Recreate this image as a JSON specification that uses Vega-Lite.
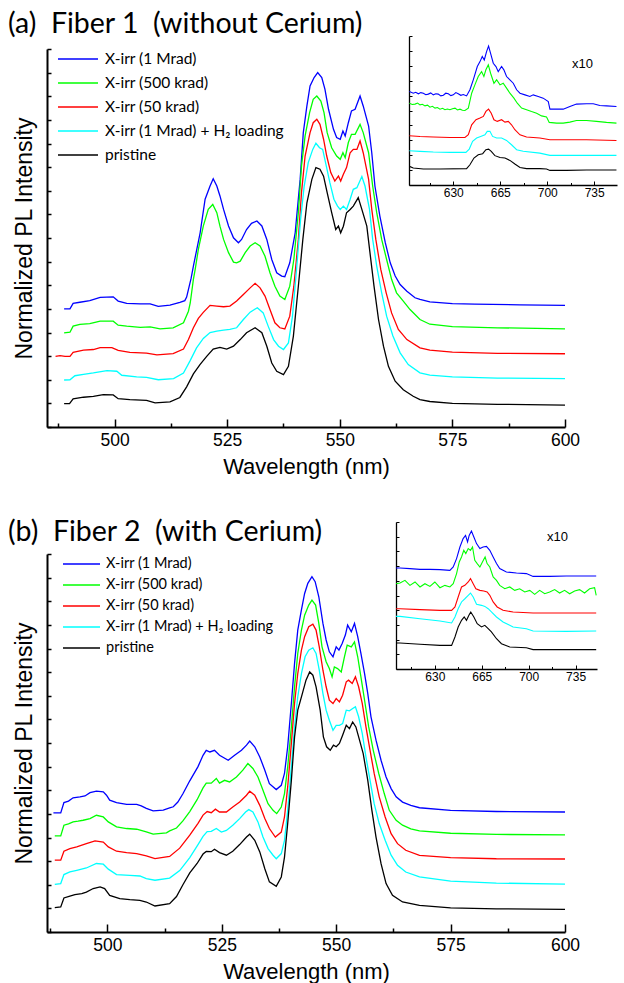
{
"$schema": "https://vega.github.io/schema/vega-lite/v6.json",
"background": "white",
"padding": {"left": 8, "top": 10, "right": 0, "bottom": 0},
"config": {
  "view": {"stroke": null},
  "font": "Liberation Sans",
  "axis": {"domainColor": "black", "tickColor": "black", "labelColor": "black", "titleColor": "black", "grid": false, "labelFont": "Liberation Sans", "titleFont": "Liberation Sans", "titleFontWeight": "normal", "labelFlush": false, "labelOverlap": false}
},
"datasets": {
"ma": [
{"s":1,"x":488.8,"y":5.0},{"s":1,"x":490.1,"y":5.0},{"s":1,"x":490.8,"y":5.23},{"s":1,"x":492.3,"y":5.28},{"s":1,"x":494.5,"y":5.35},{"s":1,"x":496.8,"y":5.49},{"s":1,"x":499.7,"y":5.51},{"s":1,"x":500.8,"y":5.33},{"s":1,"x":502.7,"y":5.23},{"s":1,"x":505.7,"y":5.21},{"s":1,"x":507.9,"y":5.21},{"s":1,"x":509.7,"y":5.11},{"s":1,"x":512.3,"y":5.16},{"s":1,"x":514.5,"y":5.28},{"s":1,"x":515.6,"y":5.35},{"s":1,"x":516.0,"y":5.5},{"s":1,"x":517.0,"y":6.3},{"s":1,"x":517.5,"y":6.81},{"s":1,"x":519.0,"y":8.22},{"s":1,"x":520.1,"y":9.64},{"s":1,"x":521.2,"y":10.2},{"s":1,"x":521.9,"y":10.51},{"s":1,"x":522.7,"y":10.2},{"s":1,"x":523.4,"y":9.78},{"s":1,"x":524.2,"y":9.21},{"s":1,"x":525.3,"y":8.51},{"s":1,"x":526.4,"y":8.01},{"s":1,"x":527.5,"y":7.8},{"s":1,"x":528.2,"y":7.94},{"s":1,"x":529.3,"y":8.36},{"s":1,"x":530.4,"y":8.62},{"s":1,"x":531.6,"y":8.72},{"s":1,"x":532.7,"y":8.51},{"s":1,"x":533.8,"y":7.94},{"s":1,"x":534.9,"y":7.09},{"s":1,"x":536.0,"y":6.53},{"s":1,"x":537.1,"y":6.39},{"s":1,"x":537.8,"y":6.36},{"s":1,"x":538.9,"y":6.95},{"s":1,"x":540.1,"y":8.22},{"s":1,"x":541.2,"y":10.48},{"s":1,"x":541.9,"y":12.46},{"s":1,"x":542.7,"y":13.59},{"s":1,"x":543.4,"y":14.44},{"s":1,"x":544.3,"y":14.79},{"s":1,"x":545.1,"y":15.0},{"s":1,"x":546.0,"y":14.79},{"s":1,"x":546.7,"y":14.3},{"s":1,"x":547.5,"y":13.45},{"s":1,"x":548.6,"y":12.6},{"s":1,"x":549.3,"y":12.25},{"s":1,"x":550.1,"y":12.18},{"s":1,"x":550.7,"y":12.53},{"s":1,"x":551.2,"y":12.32},{"s":1,"x":551.9,"y":12.88},{"s":1,"x":552.6,"y":13.38},{"s":1,"x":553.4,"y":13.45},{"s":1,"x":554.5,"y":14.01},{"s":1,"x":555.2,"y":13.59},{"s":1,"x":556.4,"y":12.74},{"s":1,"x":557.1,"y":11.61},{"s":1,"x":557.8,"y":10.2},{"s":1,"x":558.9,"y":8.93},{"s":1,"x":560.1,"y":7.8},{"s":1,"x":561.2,"y":6.95},{"s":1,"x":562.3,"y":6.39},{"s":1,"x":563.4,"y":6.03},{"s":1,"x":564.9,"y":5.75},{"s":1,"x":566.7,"y":5.47},{"s":1,"x":567.8,"y":5.4},{"s":1,"x":570,"y":5.3},{"s":1,"x":575,"y":5.22},{"s":1,"x":580,"y":5.2},{"s":1,"x":590,"y":5.17},{"s":1,"x":600,"y":5.15},
{"s":2,"x":488.8,"y":3.98},{"s":2,"x":490.1,"y":4.01},{"s":2,"x":490.8,"y":4.27},{"s":2,"x":492.3,"y":4.34},{"s":2,"x":494.5,"y":4.38},{"s":2,"x":496.8,"y":4.48},{"s":2,"x":499.7,"y":4.48},{"s":2,"x":500.8,"y":4.31},{"s":2,"x":502.7,"y":4.27},{"s":2,"x":505.7,"y":4.22},{"s":2,"x":507.9,"y":4.24},{"s":2,"x":510.1,"y":4.15},{"s":2,"x":513.0,"y":4.2},{"s":2,"x":515.3,"y":4.41},{"s":2,"x":516.4,"y":4.9},{"s":2,"x":516.8,"y":5.25},{"s":2,"x":517.5,"y":6.25},{"s":2,"x":517.9,"y":6.67},{"s":2,"x":518.6,"y":7.52},{"s":2,"x":519.7,"y":8.5},{"s":2,"x":520.8,"y":9.21},{"s":2,"x":521.8,"y":9.42},{"s":2,"x":522.7,"y":9.07},{"s":2,"x":523.4,"y":8.5},{"s":2,"x":524.2,"y":7.94},{"s":2,"x":525.3,"y":7.38},{"s":2,"x":526.4,"y":6.98},{"s":2,"x":527.1,"y":6.95},{"s":2,"x":527.9,"y":7.02},{"s":2,"x":529.0,"y":7.38},{"s":2,"x":530.1,"y":7.66},{"s":2,"x":531.2,"y":7.8},{"s":2,"x":532.3,"y":7.66},{"s":2,"x":533.4,"y":7.23},{"s":2,"x":534.5,"y":6.53},{"s":2,"x":535.6,"y":5.96},{"s":2,"x":536.7,"y":5.54},{"s":2,"x":537.8,"y":5.4},{"s":2,"x":538.9,"y":5.96},{"s":2,"x":539.8,"y":7.09},{"s":2,"x":540.8,"y":9.07},{"s":2,"x":541.5,"y":11.05},{"s":2,"x":542.3,"y":12.32},{"s":2,"x":543.3,"y":13.31},{"s":2,"x":544.1,"y":13.87},{"s":2,"x":544.9,"y":14.01},{"s":2,"x":545.8,"y":13.8},{"s":2,"x":546.5,"y":13.31},{"s":2,"x":547.2,"y":12.46},{"s":2,"x":548.2,"y":11.82},{"s":2,"x":549.3,"y":11.47},{"s":2,"x":550.1,"y":11.33},{"s":2,"x":550.7,"y":11.61},{"s":2,"x":551.2,"y":11.4},{"s":2,"x":551.9,"y":12.04},{"s":2,"x":552.6,"y":12.39},{"s":2,"x":553.4,"y":12.39},{"s":2,"x":554.5,"y":12.81},{"s":2,"x":555.2,"y":12.46},{"s":2,"x":556.4,"y":11.61},{"s":2,"x":557.3,"y":10.2},{"s":2,"x":558.2,"y":9.07},{"s":2,"x":559.3,"y":7.94},{"s":2,"x":560.4,"y":7.09},{"s":2,"x":561.5,"y":6.25},{"s":2,"x":562.6,"y":5.68},{"s":2,"x":564.1,"y":5.33},{"s":2,"x":565.6,"y":4.97},{"s":2,"x":567.8,"y":4.55},{"s":2,"x":570,"y":4.35},{"s":2,"x":575,"y":4.25},{"s":2,"x":585,"y":4.2},{"s":2,"x":600,"y":4.15},
{"s":3,"x":486.9,"y":2.99},{"s":3,"x":487.9,"y":3.02},{"s":3,"x":489.0,"y":2.99},{"s":3,"x":490.1,"y":2.99},{"s":3,"x":490.8,"y":3.16},{"s":3,"x":493.1,"y":3.25},{"s":3,"x":495.3,"y":3.28},{"s":3,"x":496.8,"y":3.36},{"s":3,"x":499.4,"y":3.36},{"s":3,"x":500.8,"y":3.24},{"s":3,"x":503.4,"y":3.16},{"s":3,"x":507.1,"y":3.13},{"s":3,"x":509.4,"y":3.05},{"s":3,"x":513.0,"y":3.11},{"s":3,"x":515.3,"y":3.3},{"s":3,"x":516.4,"y":3.7},{"s":3,"x":517.5,"y":4.2},{"s":3,"x":518.6,"y":4.6},{"s":3,"x":519.7,"y":4.85},{"s":3,"x":521.2,"y":5.15},{"s":3,"x":522.7,"y":5.12},{"s":3,"x":524.2,"y":5.09},{"s":3,"x":525.6,"y":5.12},{"s":3,"x":527.1,"y":5.33},{"s":3,"x":528.6,"y":5.61},{"s":3,"x":530.1,"y":5.89},{"s":3,"x":531.2,"y":6.08},{"s":3,"x":532.3,"y":5.89},{"s":3,"x":533.4,"y":5.54},{"s":3,"x":534.5,"y":4.97},{"s":3,"x":535.6,"y":4.41},{"s":3,"x":536.7,"y":4.2},{"s":3,"x":537.8,"y":4.15},{"s":3,"x":538.9,"y":4.69},{"s":3,"x":539.8,"y":5.96},{"s":3,"x":540.8,"y":7.94},{"s":3,"x":541.5,"y":9.92},{"s":3,"x":542.3,"y":11.47},{"s":3,"x":543.4,"y":12.46},{"s":3,"x":544.1,"y":12.88},{"s":3,"x":544.9,"y":13.03},{"s":3,"x":545.6,"y":12.81},{"s":3,"x":546.4,"y":12.18},{"s":3,"x":547.1,"y":11.47},{"s":3,"x":548.0,"y":10.77},{"s":3,"x":548.9,"y":10.41},{"s":3,"x":549.7,"y":10.62},{"s":3,"x":550.2,"y":10.41},{"s":3,"x":550.8,"y":10.7},{"s":3,"x":551.5,"y":10.98},{"s":3,"x":552.3,"y":11.61},{"s":3,"x":553.0,"y":11.75},{"s":3,"x":553.8,"y":11.75},{"s":3,"x":554.5,"y":12.11},{"s":3,"x":555.2,"y":11.61},{"s":3,"x":556.4,"y":10.48},{"s":3,"x":557.1,"y":9.21},{"s":3,"x":558.0,"y":7.94},{"s":3,"x":559.1,"y":6.67},{"s":3,"x":560.3,"y":5.68},{"s":3,"x":561.5,"y":4.83},{"s":3,"x":563.0,"y":4.13},{"s":3,"x":564.9,"y":3.7},{"s":3,"x":567.8,"y":3.35},{"s":3,"x":570,"y":3.25},{"s":3,"x":575,"y":3.17},{"s":3,"x":585,"y":3.12},{"s":3,"x":600,"y":3.1},
{"s":4,"x":488.8,"y":1.99},{"s":4,"x":490.1,"y":2.0},{"s":4,"x":491.2,"y":2.17},{"s":4,"x":493.1,"y":2.23},{"s":4,"x":495.3,"y":2.29},{"s":4,"x":498.3,"y":2.39},{"s":4,"x":500.5,"y":2.36},{"s":4,"x":501.6,"y":2.19},{"s":4,"x":504.9,"y":2.12},{"s":4,"x":507.1,"y":2.1},{"s":4,"x":509.7,"y":2.0},{"s":4,"x":513.1,"y":2.05},{"s":4,"x":515.3,"y":2.28},{"s":4,"x":516.75,"y":2.8},{"s":4,"x":518.2,"y":3.35},{"s":4,"x":519.7,"y":3.75},{"s":4,"x":521.2,"y":4.0},{"s":4,"x":522.7,"y":4.06},{"s":4,"x":524.2,"y":4.1},{"s":4,"x":525.6,"y":4.13},{"s":4,"x":527.1,"y":4.2},{"s":4,"x":528.6,"y":4.55},{"s":4,"x":530.1,"y":4.86},{"s":4,"x":531.7,"y":5.05},{"s":4,"x":533.0,"y":4.83},{"s":4,"x":534.1,"y":4.27},{"s":4,"x":535.3,"y":3.7},{"s":4,"x":536.4,"y":3.42},{"s":4,"x":537.5,"y":3.28},{"s":4,"x":538.6,"y":3.56},{"s":4,"x":539.5,"y":4.69},{"s":4,"x":540.4,"y":6.67},{"s":4,"x":541.3,"y":8.79},{"s":4,"x":542.1,"y":10.2},{"s":4,"x":543.0,"y":11.19},{"s":4,"x":544.0,"y":11.75},{"s":4,"x":544.7,"y":12.01},{"s":4,"x":545.5,"y":11.82},{"s":4,"x":546.2,"y":11.75},{"s":4,"x":547.0,"y":11.05},{"s":4,"x":547.8,"y":10.34},{"s":4,"x":548.7,"y":9.64},{"s":4,"x":549.5,"y":9.35},{"s":4,"x":550.1,"y":9.21},{"s":4,"x":550.8,"y":9.35},{"s":4,"x":551.5,"y":9.21},{"s":4,"x":552.3,"y":9.64},{"s":4,"x":553.0,"y":10.06},{"s":4,"x":553.8,"y":10.13},{"s":4,"x":554.9,"y":10.6},{"s":4,"x":555.6,"y":10.2},{"s":4,"x":556.6,"y":9.21},{"s":4,"x":557.3,"y":7.94},{"s":4,"x":558.2,"y":6.81},{"s":4,"x":559.3,"y":5.68},{"s":4,"x":560.4,"y":4.69},{"s":4,"x":561.8,"y":3.85},{"s":4,"x":563.4,"y":3.14},{"s":4,"x":565.2,"y":2.64},{"s":4,"x":567.8,"y":2.29},{"s":4,"x":570,"y":2.2},{"s":4,"x":575,"y":2.12},{"s":4,"x":585,"y":2.07},{"s":4,"x":600,"y":2.05},
{"s":5,"x":488.8,"y":0.99},{"s":5,"x":490.0,"y":0.99},{"s":5,"x":490.8,"y":1.19},{"s":5,"x":493.1,"y":1.26},{"s":5,"x":495.3,"y":1.3},{"s":5,"x":497.5,"y":1.37},{"s":5,"x":499.7,"y":1.36},{"s":5,"x":500.8,"y":1.2},{"s":5,"x":503.4,"y":1.16},{"s":5,"x":507.1,"y":1.13},{"s":5,"x":509.0,"y":1.02},{"s":5,"x":512.3,"y":1.06},{"s":5,"x":514.5,"y":1.25},{"s":5,"x":516.0,"y":1.7},{"s":5,"x":517.5,"y":2.25},{"s":5,"x":519.0,"y":2.65},{"s":5,"x":520.5,"y":3.0},{"s":5,"x":521.9,"y":3.3},{"s":5,"x":523.4,"y":3.37},{"s":5,"x":524.9,"y":3.3},{"s":5,"x":526.4,"y":3.42},{"s":5,"x":527.9,"y":3.7},{"s":5,"x":529.3,"y":3.99},{"s":5,"x":531.2,"y":4.2},{"s":5,"x":532.7,"y":3.99},{"s":5,"x":533.8,"y":3.42},{"s":5,"x":534.9,"y":2.71},{"s":5,"x":536.0,"y":2.36},{"s":5,"x":537.5,"y":2.22},{"s":5,"x":538.6,"y":2.57},{"s":5,"x":539.7,"y":3.85},{"s":5,"x":540.8,"y":5.96},{"s":5,"x":541.8,"y":7.94},{"s":5,"x":542.7,"y":9.49},{"s":5,"x":543.8,"y":10.48},{"s":5,"x":544.7,"y":10.98},{"s":5,"x":545.6,"y":10.91},{"s":5,"x":546.4,"y":10.62},{"s":5,"x":547.2,"y":9.92},{"s":5,"x":548.2,"y":9.07},{"s":5,"x":549.1,"y":8.36},{"s":5,"x":549.7,"y":8.5},{"s":5,"x":550.2,"y":8.22},{"s":5,"x":550.8,"y":8.5},{"s":5,"x":551.5,"y":9.07},{"s":5,"x":552.3,"y":9.21},{"s":5,"x":553.0,"y":9.35},{"s":5,"x":554.1,"y":9.71},{"s":5,"x":554.9,"y":9.21},{"s":5,"x":556.0,"y":8.5},{"s":5,"x":556.7,"y":7.38},{"s":5,"x":557.6,"y":5.96},{"s":5,"x":558.6,"y":4.55},{"s":5,"x":559.7,"y":3.42},{"s":5,"x":560.8,"y":2.57},{"s":5,"x":562.3,"y":1.94},{"s":5,"x":564.1,"y":1.58},{"s":5,"x":566.3,"y":1.3},{"s":5,"x":567.8,"y":1.16},{"s":5,"x":570,"y":1.08},{"s":5,"x":575,"y":1.0},{"s":5,"x":585,"y":0.96},{"s":5,"x":600,"y":0.93}
],
"mb": [
{"s":1,"x":488.2,"y":5.04},{"s":1,"x":489.8,"y":5.04},{"s":1,"x":490.5,"y":5.48},{"s":1,"x":491.5,"y":5.54},{"s":1,"x":492.5,"y":5.68},{"s":1,"x":494.0,"y":5.72},{"s":1,"x":495.1,"y":5.76},{"s":1,"x":496.2,"y":5.9},{"s":1,"x":497.6,"y":5.96},{"s":1,"x":499.1,"y":5.93},{"s":1,"x":499.8,"y":5.79},{"s":1,"x":500.5,"y":5.58},{"s":1,"x":502.0,"y":5.48},{"s":1,"x":504.2,"y":5.4},{"s":1,"x":506.4,"y":5.4},{"s":1,"x":507.4,"y":5.34},{"s":1,"x":508.5,"y":5.23},{"s":1,"x":510.0,"y":5.13},{"s":1,"x":512.2,"y":5.16},{"s":1,"x":513.6,"y":5.25},{"s":1,"x":514.4,"y":5.3},{"s":1,"x":515.4,"y":5.5},{"s":1,"x":516.5,"y":5.85},{"s":1,"x":518.0,"y":6.4},{"s":1,"x":519.8,"y":7.0},{"s":1,"x":520.9,"y":7.48},{"s":1,"x":521.6,"y":7.69},{"s":1,"x":522.4,"y":7.62},{"s":1,"x":523.4,"y":7.69},{"s":1,"x":524.5,"y":7.48},{"s":1,"x":526.4,"y":7.27},{"s":1,"x":527.8,"y":7.48},{"s":1,"x":529.3,"y":7.69},{"s":1,"x":530.4,"y":7.91},{"s":1,"x":531.1,"y":8.08},{"s":1,"x":532.2,"y":7.84},{"s":1,"x":533.3,"y":7.41},{"s":1,"x":534.4,"y":6.85},{"s":1,"x":535.4,"y":6.28},{"s":1,"x":536.9,"y":6.03},{"s":1,"x":538.0,"y":6.21},{"s":1,"x":538.7,"y":6.71},{"s":1,"x":539.4,"y":7.84},{"s":1,"x":540.2,"y":9.67},{"s":1,"x":540.9,"y":11.37},{"s":1,"x":541.6,"y":12.78},{"s":1,"x":542.4,"y":13.63},{"s":1,"x":543.1,"y":14.33},{"s":1,"x":543.8,"y":14.76},{"s":1,"x":544.7,"y":15.04},{"s":1,"x":545.4,"y":14.83},{"s":1,"x":546.2,"y":14.19},{"s":1,"x":547.1,"y":13.06},{"s":1,"x":547.8,"y":12.36},{"s":1,"x":548.5,"y":11.86},{"s":1,"x":549.3,"y":11.65},{"s":1,"x":550.0,"y":12.07},{"s":1,"x":550.6,"y":11.93},{"s":1,"x":551.3,"y":12.21},{"s":1,"x":552.0,"y":12.57},{"s":1,"x":552.5,"y":12.99},{"s":1,"x":553.3,"y":12.71},{"s":1,"x":554.0,"y":13.06},{"s":1,"x":554.7,"y":12.5},{"s":1,"x":555.4,"y":11.79},{"s":1,"x":556.2,"y":10.94},{"s":1,"x":556.9,"y":10.09},{"s":1,"x":557.6,"y":9.11},{"s":1,"x":558.7,"y":8.12},{"s":1,"x":559.8,"y":7.27},{"s":1,"x":560.9,"y":6.56},{"s":1,"x":562.0,"y":6.07},{"s":1,"x":563.1,"y":5.72},{"s":1,"x":564.5,"y":5.5},{"s":1,"x":566.3,"y":5.36},{"s":1,"x":568.2,"y":5.26},{"s":1,"x":575,"y":5.15},{"s":1,"x":585,"y":5.1},{"s":1,"x":600,"y":5.08},
{"s":2,"x":488.5,"y":4.07},{"s":2,"x":489.8,"y":4.07},{"s":2,"x":490.5,"y":4.52},{"s":2,"x":491.5,"y":4.58},{"s":2,"x":492.5,"y":4.66},{"s":2,"x":493.6,"y":4.69},{"s":2,"x":494.7,"y":4.73},{"s":2,"x":496.2,"y":4.8},{"s":2,"x":497.6,"y":4.94},{"s":2,"x":499.1,"y":4.87},{"s":2,"x":500.2,"y":4.66},{"s":2,"x":502.0,"y":4.45},{"s":2,"x":504.2,"y":4.38},{"s":2,"x":506.4,"y":4.35},{"s":2,"x":508.5,"y":4.24},{"s":2,"x":510.0,"y":4.14},{"s":2,"x":512.9,"y":4.2},{"s":2,"x":513.6,"y":4.28},{"s":2,"x":515.1,"y":4.4},{"s":2,"x":516.5,"y":4.7},{"s":2,"x":518.0,"y":5.1},{"s":2,"x":519.6,"y":5.6},{"s":2,"x":520.9,"y":6.1},{"s":2,"x":521.6,"y":6.3},{"s":2,"x":522.7,"y":6.3},{"s":2,"x":523.8,"y":6.5},{"s":2,"x":524.5,"y":6.3},{"s":2,"x":525.6,"y":6.42},{"s":2,"x":526.7,"y":6.35},{"s":2,"x":528.2,"y":6.56},{"s":2,"x":529.6,"y":6.85},{"s":2,"x":530.7,"y":7.13},{"s":2,"x":531.8,"y":6.92},{"s":2,"x":532.9,"y":6.56},{"s":2,"x":534.0,"y":6.0},{"s":2,"x":535.1,"y":5.43},{"s":2,"x":536.2,"y":5.15},{"s":2,"x":537.0,"y":5.01},{"s":2,"x":538.0,"y":5.29},{"s":2,"x":538.7,"y":5.86},{"s":2,"x":539.4,"y":6.99},{"s":2,"x":540.2,"y":8.68},{"s":2,"x":540.9,"y":10.38},{"s":2,"x":541.6,"y":11.79},{"s":2,"x":542.4,"y":12.78},{"s":2,"x":543.1,"y":13.41},{"s":2,"x":544.0,"y":13.84},{"s":2,"x":544.7,"y":14.05},{"s":2,"x":545.5,"y":13.84},{"s":2,"x":546.2,"y":13.06},{"s":2,"x":546.9,"y":12.07},{"s":2,"x":547.8,"y":11.44},{"s":2,"x":548.5,"y":11.15},{"s":2,"x":549.1,"y":10.8},{"s":2,"x":549.6,"y":11.22},{"s":2,"x":550.3,"y":11.15},{"s":2,"x":551.1,"y":11.01},{"s":2,"x":551.8,"y":11.65},{"s":2,"x":552.4,"y":12.14},{"s":2,"x":553.3,"y":12.07},{"s":2,"x":554.0,"y":12.28},{"s":2,"x":554.7,"y":11.65},{"s":2,"x":555.4,"y":10.8},{"s":2,"x":556.2,"y":9.81},{"s":2,"x":557.1,"y":8.68},{"s":2,"x":558.1,"y":7.69},{"s":2,"x":559.3,"y":6.71},{"s":2,"x":560.5,"y":5.86},{"s":2,"x":561.6,"y":5.15},{"s":2,"x":563.1,"y":4.73},{"s":2,"x":564.5,"y":4.52},{"s":2,"x":566.3,"y":4.37},{"s":2,"x":568.2,"y":4.28},{"s":2,"x":575,"y":4.18},{"s":2,"x":585,"y":4.13},{"s":2,"x":600,"y":4.11},
{"s":3,"x":488.5,"y":3.04},{"s":3,"x":489.8,"y":3.04},{"s":3,"x":490.5,"y":3.42},{"s":3,"x":491.8,"y":3.53},{"s":3,"x":493.3,"y":3.6},{"s":3,"x":495.4,"y":3.74},{"s":3,"x":497.3,"y":3.86},{"s":3,"x":499.1,"y":3.81},{"s":3,"x":500.2,"y":3.6},{"s":3,"x":502.0,"y":3.42},{"s":3,"x":504.2,"y":3.36},{"s":3,"x":506.4,"y":3.32},{"s":3,"x":508.5,"y":3.22},{"s":3,"x":510.4,"y":3.11},{"s":3,"x":513.6,"y":3.2},{"s":3,"x":515.8,"y":3.55},{"s":3,"x":518.0,"y":4.1},{"s":3,"x":519.8,"y":4.6},{"s":3,"x":520.9,"y":4.95},{"s":3,"x":521.8,"y":5.1},{"s":3,"x":522.7,"y":5.05},{"s":3,"x":523.6,"y":5.2},{"s":3,"x":524.5,"y":5.08},{"s":3,"x":526.0,"y":5.08},{"s":3,"x":527.4,"y":5.29},{"s":3,"x":528.9,"y":5.5},{"s":3,"x":530.4,"y":5.79},{"s":3,"x":531.1,"y":5.96},{"s":3,"x":532.2,"y":5.79},{"s":3,"x":533.3,"y":5.36},{"s":3,"x":534.4,"y":4.8},{"s":3,"x":535.4,"y":4.38},{"s":3,"x":536.7,"y":4.02},{"s":3,"x":538.0,"y":4.23},{"s":3,"x":538.7,"y":4.87},{"s":3,"x":539.4,"y":6.14},{"s":3,"x":540.2,"y":7.98},{"s":3,"x":540.9,"y":9.67},{"s":3,"x":541.6,"y":10.94},{"s":3,"x":542.4,"y":11.93},{"s":3,"x":543.1,"y":12.5},{"s":3,"x":544.0,"y":12.92},{"s":3,"x":544.9,"y":13.03},{"s":3,"x":545.6,"y":12.78},{"s":3,"x":546.3,"y":12.07},{"s":3,"x":547.1,"y":11.08},{"s":3,"x":547.8,"y":10.38},{"s":3,"x":548.5,"y":9.81},{"s":3,"x":549.3,"y":9.67},{"s":3,"x":550.0,"y":9.88},{"s":3,"x":550.7,"y":9.74},{"s":3,"x":551.4,"y":10.02},{"s":3,"x":552.2,"y":10.59},{"s":3,"x":552.7,"y":10.66},{"s":3,"x":553.5,"y":10.52},{"s":3,"x":554.2,"y":10.8},{"s":3,"x":554.9,"y":10.38},{"s":3,"x":555.7,"y":9.67},{"s":3,"x":556.5,"y":8.68},{"s":3,"x":557.4,"y":7.69},{"s":3,"x":558.3,"y":6.71},{"s":3,"x":559.4,"y":5.72},{"s":3,"x":560.7,"y":4.87},{"s":3,"x":562.0,"y":4.16},{"s":3,"x":563.4,"y":3.74},{"s":3,"x":565.2,"y":3.46},{"s":3,"x":568.2,"y":3.24},{"s":3,"x":575,"y":3.15},{"s":3,"x":585,"y":3.1},{"s":3,"x":600,"y":3.09},
{"s":4,"x":488.5,"y":2.02},{"s":4,"x":489.8,"y":2.05},{"s":4,"x":490.5,"y":2.43},{"s":4,"x":491.8,"y":2.54},{"s":4,"x":493.3,"y":2.61},{"s":4,"x":495.4,"y":2.71},{"s":4,"x":497.6,"y":2.9},{"s":4,"x":499.1,"y":2.87},{"s":4,"x":500.2,"y":2.66},{"s":4,"x":502.0,"y":2.43},{"s":4,"x":504.9,"y":2.4},{"s":4,"x":507.1,"y":2.37},{"s":4,"x":508.5,"y":2.26},{"s":4,"x":510.4,"y":2.19},{"s":4,"x":513.6,"y":2.28},{"s":4,"x":515.8,"y":2.6},{"s":4,"x":518.0,"y":3.15},{"s":4,"x":519.8,"y":3.7},{"s":4,"x":520.9,"y":4.05},{"s":4,"x":521.8,"y":4.25},{"s":4,"x":522.7,"y":4.26},{"s":4,"x":523.8,"y":4.38},{"s":4,"x":524.9,"y":4.23},{"s":4,"x":526.0,"y":4.3},{"s":4,"x":527.4,"y":4.52},{"s":4,"x":528.9,"y":4.8},{"s":4,"x":530.2,"y":5.08},{"s":4,"x":530.9,"y":5.18},{"s":4,"x":531.8,"y":5.08},{"s":4,"x":532.9,"y":4.66},{"s":4,"x":534.0,"y":4.02},{"s":4,"x":535.1,"y":3.53},{"s":4,"x":536.2,"y":3.25},{"s":4,"x":536.9,"y":3.1},{"s":4,"x":538.0,"y":3.32},{"s":4,"x":538.7,"y":3.88},{"s":4,"x":539.4,"y":5.15},{"s":4,"x":540.2,"y":6.99},{"s":4,"x":540.9,"y":8.68},{"s":4,"x":541.6,"y":9.95},{"s":4,"x":542.4,"y":10.94},{"s":4,"x":543.2,"y":11.65},{"s":4,"x":544.0,"y":11.93},{"s":4,"x":544.9,"y":12.03},{"s":4,"x":545.6,"y":11.79},{"s":4,"x":546.3,"y":11.08},{"s":4,"x":547.1,"y":10.09},{"s":4,"x":547.8,"y":9.39},{"s":4,"x":548.5,"y":8.96},{"s":4,"x":549.3,"y":8.54},{"s":4,"x":550.0,"y":8.75},{"s":4,"x":550.7,"y":8.75},{"s":4,"x":551.4,"y":8.82},{"s":4,"x":552.2,"y":9.39},{"s":4,"x":552.9,"y":9.36},{"s":4,"x":553.6,"y":9.46},{"s":4,"x":554.2,"y":9.53},{"s":4,"x":554.9,"y":9.11},{"s":4,"x":555.7,"y":8.4},{"s":4,"x":556.5,"y":7.41},{"s":4,"x":557.4,"y":6.42},{"s":4,"x":558.3,"y":5.43},{"s":4,"x":559.4,"y":4.59},{"s":4,"x":560.7,"y":3.88},{"s":4,"x":562.0,"y":3.25},{"s":4,"x":563.4,"y":2.82},{"s":4,"x":565.2,"y":2.54},{"s":4,"x":568.2,"y":2.33},{"s":4,"x":575,"y":2.15},{"s":4,"x":585,"y":2.07},{"s":4,"x":600,"y":2.03},
{"s":5,"x":488.5,"y":1.03},{"s":5,"x":489.8,"y":1.06},{"s":5,"x":490.5,"y":1.44},{"s":5,"x":491.8,"y":1.52},{"s":5,"x":492.9,"y":1.58},{"s":5,"x":494.4,"y":1.62},{"s":5,"x":495.4,"y":1.69},{"s":5,"x":496.9,"y":1.84},{"s":5,"x":498.4,"y":1.91},{"s":5,"x":499.4,"y":1.84},{"s":5,"x":500.5,"y":1.55},{"s":5,"x":502.7,"y":1.41},{"s":5,"x":504.9,"y":1.37},{"s":5,"x":507.1,"y":1.34},{"s":5,"x":508.5,"y":1.27},{"s":5,"x":510.4,"y":1.1},{"s":5,"x":513.6,"y":1.2},{"s":5,"x":515.1,"y":1.5},{"s":5,"x":516.5,"y":2.0},{"s":5,"x":518.0,"y":2.5},{"s":5,"x":519.6,"y":2.9},{"s":5,"x":520.9,"y":3.3},{"s":5,"x":521.6,"y":3.41},{"s":5,"x":522.7,"y":3.4},{"s":5,"x":523.4,"y":3.5},{"s":5,"x":524.5,"y":3.36},{"s":5,"x":526.0,"y":3.25},{"s":5,"x":527.4,"y":3.42},{"s":5,"x":528.9,"y":3.7},{"s":5,"x":530.4,"y":4.02},{"s":5,"x":531.1,"y":4.14},{"s":5,"x":532.2,"y":3.88},{"s":5,"x":533.3,"y":3.39},{"s":5,"x":534.4,"y":2.68},{"s":5,"x":535.4,"y":2.12},{"s":5,"x":536.9,"y":1.93},{"s":5,"x":538.0,"y":2.33},{"s":5,"x":538.7,"y":3.17},{"s":5,"x":539.4,"y":4.59},{"s":5,"x":540.2,"y":6.42},{"s":5,"x":540.9,"y":8.26},{"s":5,"x":541.6,"y":9.39},{"s":5,"x":542.6,"y":10.09},{"s":5,"x":543.4,"y":10.66},{"s":5,"x":544.2,"y":11.01},{"s":5,"x":544.9,"y":10.87},{"s":5,"x":545.6,"y":10.38},{"s":5,"x":546.5,"y":9.39},{"s":5,"x":547.2,"y":8.26},{"s":5,"x":547.9,"y":7.84},{"s":5,"x":548.7,"y":7.69},{"s":5,"x":549.4,"y":7.91},{"s":5,"x":550.0,"y":7.84},{"s":5,"x":550.7,"y":7.98},{"s":5,"x":551.4,"y":8.33},{"s":5,"x":552.2,"y":8.75},{"s":5,"x":552.9,"y":8.61},{"s":5,"x":553.6,"y":8.89},{"s":5,"x":554.3,"y":8.68},{"s":5,"x":555.1,"y":8.12},{"s":5,"x":555.9,"y":7.55},{"s":5,"x":556.9,"y":6.42},{"s":5,"x":557.8,"y":5.15},{"s":5,"x":558.7,"y":4.02},{"s":5,"x":559.8,"y":2.89},{"s":5,"x":560.9,"y":2.05},{"s":5,"x":562.3,"y":1.55},{"s":5,"x":564.5,"y":1.27},{"s":5,"x":568.2,"y":1.13},{"s":5,"x":575,"y":1.02},{"s":5,"x":585,"y":0.98},{"s":5,"x":600,"y":0.96}
],
"ia": [
{"s":1,"x":597.3,"y":6.27},{"s":1,"x":600.2,"y":6.16},{"s":1,"x":602.0,"y":6.22},{"s":1,"x":604.0,"y":6.12},{"s":1,"x":605.8,"y":6.2},{"s":1,"x":607.7,"y":6.16},{"s":1,"x":609.5,"y":6.06},{"s":1,"x":611.4,"y":6.1},{"s":1,"x":613.2,"y":6.18},{"s":1,"x":615.1,"y":6.05},{"s":1,"x":617.0,"y":6.12},{"s":1,"x":618.8,"y":6.1},{"s":1,"x":620.7,"y":5.98},{"s":1,"x":622.6,"y":6.03},{"s":1,"x":624.4,"y":6.16},{"s":1,"x":626.3,"y":6.12},{"s":1,"x":628.2,"y":6.0},{"s":1,"x":630.0,"y":6.05},{"s":1,"x":631.9,"y":6.2},{"s":1,"x":633.7,"y":6.12},{"s":1,"x":635.6,"y":6.02},{"s":1,"x":637.5,"y":6.07},{"s":1,"x":639.9,"y":5.98},{"s":1,"x":642.4,"y":6.39},{"s":1,"x":644.9,"y":7.06},{"s":1,"x":647.9,"y":7.95},{"s":1,"x":649.9,"y":8.28},{"s":1,"x":651.6,"y":8.62},{"s":1,"x":653.1,"y":8.39},{"s":1,"x":654.8,"y":8.95},{"s":1,"x":656.3,"y":9.33},{"s":1,"x":657.8,"y":8.84},{"s":1,"x":659.8,"y":8.17},{"s":1,"x":661.8,"y":7.95},{"s":1,"x":663.5,"y":7.61},{"s":1,"x":666.0,"y":7.95},{"s":1,"x":667.7,"y":7.73},{"s":1,"x":669.7,"y":7.28},{"s":1,"x":672.2,"y":7.06},{"s":1,"x":674.7,"y":6.83},{"s":1,"x":677.2,"y":6.39},{"s":1,"x":679.7,"y":6.16},{"s":1,"x":683.4,"y":6.05},{"s":1,"x":687.1,"y":5.94},{"s":1,"x":689.6,"y":6.05},{"s":1,"x":693.3,"y":5.94},{"s":1,"x":697.0,"y":5.83},{"s":1,"x":700.8,"y":5.6},{"s":1,"x":702.0,"y":5.09},{"s":1,"x":707.0,"y":5.09},{"s":1,"x":711.9,"y":5.09},{"s":1,"x":716.9,"y":5.27},{"s":1,"x":721.8,"y":5.43},{"s":1,"x":729.3,"y":5.45},{"s":1,"x":734.3,"y":5.45},{"s":1,"x":739.2,"y":5.34},{"s":1,"x":744.2,"y":5.31},{"s":1,"x":751.6,"y":5.27},
{"s":2,"x":597.3,"y":5.49},{"s":2,"x":599.4,"y":5.4},{"s":2,"x":601.5,"y":5.43},{"s":2,"x":603.4,"y":5.5},{"s":2,"x":605.2,"y":5.38},{"s":2,"x":607.0,"y":5.42},{"s":2,"x":608.9,"y":5.31},{"s":2,"x":610.8,"y":5.36},{"s":2,"x":612.6,"y":5.22},{"s":2,"x":614.5,"y":5.28},{"s":2,"x":616.4,"y":5.16},{"s":2,"x":618.2,"y":5.2},{"s":2,"x":620.1,"y":5.09},{"s":2,"x":622.0,"y":5.15},{"s":2,"x":623.8,"y":5.05},{"s":2,"x":625.6,"y":5.1},{"s":2,"x":627.5,"y":5.05},{"s":2,"x":629.4,"y":5.12},{"s":2,"x":631.3,"y":5.16},{"s":2,"x":633.1,"y":5.04},{"s":2,"x":635.0,"y":5.09},{"s":2,"x":636.8,"y":5.02},{"s":2,"x":638.7,"y":5.0},{"s":2,"x":641.2,"y":5.16},{"s":2,"x":643.7,"y":6.16},{"s":2,"x":646.1,"y":6.72},{"s":2,"x":648.6,"y":7.28},{"s":2,"x":651.1,"y":7.61},{"s":2,"x":652.8,"y":7.28},{"s":2,"x":654.3,"y":7.73},{"s":2,"x":656.1,"y":8.06},{"s":2,"x":657.8,"y":7.5},{"s":2,"x":660.3,"y":6.83},{"s":2,"x":662.3,"y":7.06},{"s":2,"x":664.8,"y":6.72},{"s":2,"x":667.2,"y":6.83},{"s":2,"x":669.7,"y":6.5},{"s":2,"x":672.2,"y":6.16},{"s":2,"x":675.2,"y":5.83},{"s":2,"x":677.7,"y":5.49},{"s":2,"x":680.9,"y":5.16},{"s":2,"x":684.6,"y":5.05},{"s":2,"x":688.3,"y":4.93},{"s":2,"x":692.1,"y":4.82},{"s":2,"x":695.8,"y":4.64},{"s":2,"x":699.5,"y":4.56},{"s":2,"x":701.5,"y":4.2},{"s":2,"x":707.0,"y":4.15},{"s":2,"x":711.9,"y":4.15},{"s":2,"x":716.9,"y":4.22},{"s":2,"x":721.8,"y":4.33},{"s":2,"x":729.3,"y":4.33},{"s":2,"x":736.7,"y":4.27},{"s":2,"x":744.2,"y":4.2},{"s":2,"x":751.6,"y":4.15},
{"s":3,"x":597.3,"y":3.31},{"s":3,"x":605.2,"y":3.26},{"s":3,"x":615.1,"y":3.22},{"s":3,"x":627.5,"y":3.19},{"s":3,"x":638.7,"y":3.19},{"s":3,"x":641.2,"y":3.37},{"s":3,"x":643.7,"y":4.04},{"s":3,"x":646.9,"y":4.38},{"s":3,"x":649.9,"y":4.49},{"s":3,"x":652.4,"y":4.6},{"s":3,"x":654.3,"y":4.94},{"s":3,"x":656.3,"y":5.09},{"s":3,"x":658.3,"y":4.82},{"s":3,"x":660.3,"y":4.38},{"s":3,"x":662.8,"y":4.27},{"s":3,"x":666.0,"y":4.38},{"s":3,"x":668.5,"y":4.22},{"s":3,"x":671.0,"y":4.27},{"s":3,"x":673.4,"y":4.04},{"s":3,"x":675.9,"y":3.71},{"s":3,"x":679.7,"y":3.37},{"s":3,"x":684.6,"y":3.22},{"s":3,"x":694.5,"y":3.15},{"s":3,"x":702.0,"y":3.04},{"s":3,"x":714.4,"y":3.04},{"s":3,"x":729.3,"y":3.04},{"s":3,"x":751.6,"y":2.99},
{"s":4,"x":597.3,"y":2.3},{"s":4,"x":605.2,"y":2.26},{"s":4,"x":615.1,"y":2.21},{"s":4,"x":627.5,"y":2.19},{"s":4,"x":639.4,"y":2.19},{"s":4,"x":641.9,"y":2.41},{"s":4,"x":644.4,"y":2.93},{"s":4,"x":647.4,"y":3.15},{"s":4,"x":650.4,"y":3.26},{"s":4,"x":653.6,"y":3.37},{"s":4,"x":655.3,"y":3.6},{"s":4,"x":657.3,"y":3.6},{"s":4,"x":659.3,"y":3.26},{"s":4,"x":662.3,"y":3.15},{"s":4,"x":666.0,"y":3.15},{"s":4,"x":669.7,"y":2.99},{"s":4,"x":673.4,"y":2.7},{"s":4,"x":677.2,"y":2.37},{"s":4,"x":682.1,"y":2.26},{"s":4,"x":694.5,"y":2.14},{"s":4,"x":702.0,"y":1.99},{"s":4,"x":714.4,"y":1.99},{"s":4,"x":729.3,"y":1.99},{"s":4,"x":751.6,"y":1.99},
{"s":5,"x":597.3,"y":1.25},{"s":5,"x":600.2,"y":1.14},{"s":5,"x":607.7,"y":1.07},{"s":5,"x":620.1,"y":1.07},{"s":5,"x":639.9,"y":1.1},{"s":5,"x":642.4,"y":1.36},{"s":5,"x":645.4,"y":1.81},{"s":5,"x":648.6,"y":2.03},{"s":5,"x":651.9,"y":2.1},{"s":5,"x":654.3,"y":2.37},{"s":5,"x":656.3,"y":2.41},{"s":5,"x":658.3,"y":2.26},{"s":5,"x":661.0,"y":1.97},{"s":5,"x":664.8,"y":1.85},{"s":5,"x":668.5,"y":1.81},{"s":5,"x":672.2,"y":1.65},{"s":5,"x":675.9,"y":1.41},{"s":5,"x":679.7,"y":1.18},{"s":5,"x":684.6,"y":1.1},{"s":5,"x":694.5,"y":1.1},{"s":5,"x":699.5,"y":1.07},{"s":5,"x":702.0,"y":0.98},{"s":5,"x":714.4,"y":0.98},{"s":5,"x":729.3,"y":1.01},{"s":5,"x":751.6,"y":1.01}
],
"ib": [
{"s":1,"x":601.0,"y":6.87},{"s":1,"x":604.0,"y":6.87},{"s":1,"x":611.4,"y":6.83},{"s":1,"x":618.9,"y":6.78},{"s":1,"x":626.3,"y":6.78},{"s":1,"x":633.8,"y":6.76},{"s":1,"x":641.2,"y":6.71},{"s":1,"x":643.7,"y":6.94},{"s":1,"x":646.2,"y":7.51},{"s":1,"x":648.7,"y":8.3},{"s":1,"x":651.1,"y":8.87},{"s":1,"x":652.9,"y":9.09},{"s":1,"x":654.4,"y":8.64},{"s":1,"x":655.6,"y":9.09},{"s":1,"x":657.3,"y":9.39},{"s":1,"x":659.1,"y":8.98},{"s":1,"x":661.1,"y":8.53},{"s":1,"x":663.6,"y":8.19},{"s":1,"x":666.0,"y":8.3},{"s":1,"x":668.5,"y":8.34},{"s":1,"x":671.0,"y":8.07},{"s":1,"x":673.5,"y":7.62},{"s":1,"x":676.0,"y":7.17},{"s":1,"x":678.4,"y":6.83},{"s":1,"x":683.4,"y":6.6},{"s":1,"x":690.9,"y":6.53},{"s":1,"x":698.3,"y":6.49},{"s":1,"x":703.3,"y":6.3},{"s":1,"x":715.7,"y":6.3},{"s":1,"x":728.1,"y":6.33},{"s":1,"x":750.4,"y":6.33},
{"s":2,"x":601.0,"y":5.8},{"s":2,"x":604.0,"y":5.85},{"s":2,"x":607.7,"y":6.03},{"s":2,"x":611.4,"y":5.69},{"s":2,"x":615.2,"y":5.92},{"s":2,"x":618.9,"y":5.58},{"s":2,"x":622.6,"y":5.8},{"s":2,"x":626.3,"y":5.62},{"s":2,"x":630.0,"y":5.92},{"s":2,"x":633.8,"y":5.53},{"s":2,"x":637.5,"y":5.69},{"s":2,"x":641.2,"y":5.58},{"s":2,"x":643.7,"y":5.8},{"s":2,"x":646.2,"y":6.49},{"s":2,"x":648.2,"y":7.28},{"s":2,"x":649.9,"y":7.62},{"s":2,"x":651.6,"y":8.07},{"s":2,"x":653.1,"y":7.85},{"s":2,"x":654.9,"y":8.19},{"s":2,"x":656.6,"y":8.07},{"s":2,"x":658.1,"y":8.3},{"s":2,"x":659.8,"y":7.39},{"s":2,"x":661.6,"y":7.17},{"s":2,"x":663.6,"y":6.94},{"s":2,"x":665.5,"y":7.28},{"s":2,"x":667.5,"y":7.62},{"s":2,"x":669.0,"y":7.17},{"s":2,"x":671.0,"y":6.94},{"s":2,"x":673.5,"y":6.26},{"s":2,"x":676.0,"y":6.03},{"s":2,"x":678.4,"y":5.69},{"s":2,"x":682.2,"y":5.46},{"s":2,"x":685.9,"y":5.58},{"s":2,"x":689.6,"y":5.35},{"s":2,"x":693.3,"y":5.46},{"s":2,"x":697.1,"y":5.24},{"s":2,"x":700.8,"y":5.35},{"s":2,"x":704.5,"y":5.08},{"s":2,"x":708.2,"y":5.35},{"s":2,"x":712.0,"y":5.12},{"s":2,"x":715.7,"y":5.24},{"s":2,"x":719.4,"y":5.4},{"s":2,"x":723.1,"y":5.17},{"s":2,"x":726.8,"y":5.35},{"s":2,"x":730.6,"y":5.12},{"s":2,"x":734.3,"y":5.31},{"s":2,"x":738.0,"y":5.4},{"s":2,"x":741.7,"y":5.17},{"s":2,"x":745.5,"y":5.46},{"s":2,"x":749.2,"y":5.53},{"s":2,"x":750.4,"y":5.01},
{"s":3,"x":601.0,"y":4.1},{"s":3,"x":604.0,"y":4.1},{"s":3,"x":618.9,"y":4.04},{"s":3,"x":633.8,"y":3.99},{"s":3,"x":642.5,"y":3.99},{"s":3,"x":645.0,"y":4.22},{"s":3,"x":647.4,"y":4.9},{"s":3,"x":649.9,"y":5.58},{"s":3,"x":652.4,"y":5.69},{"s":3,"x":654.9,"y":5.92},{"s":3,"x":656.6,"y":6.15},{"s":3,"x":658.6,"y":5.8},{"s":3,"x":660.6,"y":5.46},{"s":3,"x":663.6,"y":5.35},{"s":3,"x":666.5,"y":5.31},{"s":3,"x":669.0,"y":5.24},{"s":3,"x":671.0,"y":5.01},{"s":3,"x":673.5,"y":4.56},{"s":3,"x":676.5,"y":4.22},{"s":3,"x":680.9,"y":3.99},{"s":3,"x":688.4,"y":3.88},{"s":3,"x":703.3,"y":3.81},{"s":3,"x":728.1,"y":3.81},{"s":3,"x":750.4,"y":3.81},
{"s":4,"x":601.0,"y":3.58},{"s":4,"x":604.0,"y":3.58},{"s":4,"x":618.9,"y":3.42},{"s":4,"x":633.8,"y":3.27},{"s":4,"x":642.5,"y":3.13},{"s":4,"x":645.0,"y":3.54},{"s":4,"x":647.4,"y":4.1},{"s":4,"x":649.9,"y":4.56},{"s":4,"x":652.4,"y":4.78},{"s":4,"x":654.9,"y":5.01},{"s":4,"x":656.6,"y":5.17},{"s":4,"x":658.6,"y":4.9},{"s":4,"x":661.1,"y":4.4},{"s":4,"x":664.8,"y":4.33},{"s":4,"x":667.3,"y":4.26},{"s":4,"x":669.8,"y":4.1},{"s":4,"x":672.2,"y":3.88},{"s":4,"x":676.0,"y":3.54},{"s":4,"x":680.9,"y":3.2},{"s":4,"x":688.4,"y":2.86},{"s":4,"x":698.3,"y":2.74},{"s":4,"x":703.3,"y":2.59},{"s":4,"x":728.1,"y":2.56},{"s":4,"x":750.4,"y":2.59},
{"s":5,"x":601.0,"y":1.77},{"s":5,"x":604.0,"y":1.77},{"s":5,"x":618.9,"y":1.68},{"s":5,"x":633.8,"y":1.61},{"s":5,"x":642.5,"y":1.61},{"s":5,"x":645.0,"y":2.18},{"s":5,"x":647.4,"y":2.86},{"s":5,"x":649.9,"y":3.31},{"s":5,"x":651.9,"y":3.54},{"s":5,"x":653.6,"y":3.31},{"s":5,"x":655.4,"y":3.65},{"s":5,"x":656.8,"y":3.88},{"s":5,"x":659.1,"y":3.54},{"s":5,"x":661.6,"y":3.08},{"s":5,"x":664.8,"y":2.86},{"s":5,"x":667.3,"y":2.97},{"s":5,"x":669.8,"y":2.74},{"s":5,"x":672.2,"y":2.52},{"s":5,"x":676.0,"y":2.06},{"s":5,"x":679.7,"y":1.72},{"s":5,"x":685.9,"y":1.5},{"s":5,"x":698.3,"y":1.45},{"s":5,"x":703.3,"y":1.32},{"s":5,"x":728.1,"y":1.32},{"s":5,"x":750.4,"y":1.32}
]
},
"resolve": {"scale": {"color": "independent"}},
"spacing": 40,
"vconcat": [
{
  "width": 518, "height": 378,
  "title": {"text": "(a)\u00a0 Fiber 1\u00a0 (without Cerium)", "anchor": "start", "frame": "group", "dx": -39, "font": "Lato", "fontSize": 28.5, "fontWeight": "normal", "color": "black", "offset": -3},
  "layer": [
    {
      "data": {"name": "ma"},
      "mark": {"type": "line", "strokeWidth": 1.3},
      "encoding": {
        "x": {"field": "x", "type": "quantitative", "scale": {"domain": [485, 600], "nice": false, "zero": false},
          "axis": {"title": "Wavelength (nm)", "values": [487.5, 500, 512.5, 525, 537.5, 550, 562.5, 575, 587.5, 600], "labelExpr": "datum.value % 25 === 0 ? datum.label : ''", "tickSize": {"condition": {"test": "datum.value % 25 === 0", "value": -8}, "value": -4}, "domainWidth": 2, "tickWidth": 1.5, "labelFontSize": 17.5, "titleFontSize": 22, "labelPadding": 12, "titlePadding": 4}},
        "y": {"field": "y", "type": "quantitative", "scale": {"domain": [0, 16], "nice": false, "zero": false},
          "axis": {"title": "Normalized PL Intensity", "values": [0,1,2,3,4,5,6,7,8,9,10,11,12,13,14,15,16], "labels": false, "tickSize": -4, "domainWidth": 2, "tickWidth": 1.5, "titleFontSize": 23, "titlePadding": 10}},
        "color": {"field": "s", "type": "nominal", "scale": {"domain": [1,2,3,4,5], "range": ["#0000ff", "#00ff00", "#ff0000", "#00ffff", "#000000"]},
          "legend": {"orient": "none", "legendX": 10, "legendY": 2, "title": null, "padding": 0, "symbolType": "stroke", "symbolSize": 1600, "symbolStrokeWidth": 1.5, "clipHeight": 16, "rowPadding": 7, "labelFont": "Lato", "labelFontSize": 15.5, "labelColor": "black", "labelOffset": 6, "labelLimit": 300,
            "labelExpr": "['X-irr (1 Mrad)','X-irr (500 krad)','X-irr (50 krad)','X-irr (1 Mrad) + H\u2082 loading','pristine'][datum.value - 1]"}}
      }
    },
    {
      "data": {"name": "ia"},
      "mark": {"type": "line", "strokeWidth": 1.1},
      "encoding": {
        "x": {"field": "x", "type": "quantitative", "scale": {"domain": [597, 752], "range": [362, 570], "nice": false, "zero": false},
          "axis": {"orient": "bottom", "offset": -242, "values": [612.5, 630, 647.5, 665, 682.5, 700, 717.5, 735], "labelExpr": "datum.value % 35 === 0 ? datum.label : ''", "tickSize": {"condition": {"test": "datum.value % 35 === 0", "value": -4}, "value": -2.5}, "domainWidth": 1.3, "tickWidth": 1, "labelFontSize": 12, "labelPadding": 6, "title": "x10", "titleFontSize": 13, "titleX": 535, "titleY": -122, "titleAlign": "center", "titleBaseline": "middle"}},
        "y": {"field": "y", "type": "quantitative", "scale": {"domain": [0, 10], "range": [136, -13], "nice": false, "zero": false},
          "axis": {"orient": "left", "offset": -362, "title": null, "values": [0,1,2,3,4,5,6,7,8,9,10], "labels": false, "tickSize": -3, "domainWidth": 1.3, "tickWidth": 1}},
        "color": {"field": "s", "type": "nominal"}
      }
    }
  ],
  "resolve": {"scale": {"x": "independent", "y": "independent"}}
},
{
  "width": 518, "height": 378,
  "title": {"text": "(b)\u00a0 Fiber 2\u00a0 (with Cerium)", "anchor": "start", "frame": "group", "dx": -39, "font": "Lato", "fontSize": 28.5, "fontWeight": "normal", "color": "black", "offset": -25},
  "layer": [
    {
      "data": {"name": "mb"},
      "mark": {"type": "line", "strokeWidth": 1.3},
      "encoding": {
        "x": {"field": "x", "type": "quantitative", "scale": {"domain": [486.8, 600], "nice": false, "zero": false},
          "axis": {"title": "Wavelength (nm)", "values": [487.5, 500, 512.5, 525, 537.5, 550, 562.5, 575, 587.5, 600], "labelExpr": "datum.value % 25 === 0 ? datum.label : ''", "tickSize": {"condition": {"test": "datum.value % 25 === 0", "value": -8}, "value": -4}, "domainWidth": 2, "tickWidth": 1.5, "labelFontSize": 17.5, "titleFontSize": 22, "labelPadding": 12, "titlePadding": 4}},
        "y": {"field": "y", "type": "quantitative", "scale": {"domain": [0, 16], "nice": false, "zero": false},
          "axis": {"title": "Normalized PL Intensity", "values": [0,1,2,3,4,5,6,7,8,9,10,11,12,13,14,15,16], "labels": false, "tickSize": -4, "domainWidth": 2, "tickWidth": 1.5, "titleFontSize": 23, "titlePadding": 10}},
        "color": {"field": "s", "type": "nominal", "scale": {"domain": [1,2,3,4,5], "range": ["#0000ff", "#00ff00", "#ff0000", "#00ffff", "#000000"]},
          "legend": {"orient": "none", "legendX": 15, "legendY": 2, "title": null, "padding": 0, "symbolType": "stroke", "symbolSize": 1369, "symbolStrokeWidth": 1.5, "clipHeight": 16, "rowPadding": 5, "labelFont": "Lato", "labelFontSize": 14.5, "labelColor": "black", "labelOffset": 5, "labelLimit": 300,
            "labelExpr": "['X-irr (1 Mrad)','X-irr (500 krad)','X-irr (50 krad)','X-irr (1 Mrad) + H\u2082 loading','pristine'][datum.value - 1]"}}
      }
    },
    {
      "data": {"name": "ib"},
      "mark": {"type": "line", "strokeWidth": 1.1},
      "encoding": {
        "x": {"field": "x", "type": "quantitative", "scale": {"domain": [601, 751], "range": [349, 550], "nice": false, "zero": false},
          "axis": {"orient": "bottom", "offset": -263, "values": [612.5, 630, 647.5, 665, 682.5, 700, 717.5, 735], "labelExpr": "datum.value % 35 === 0 ? datum.label : ''", "tickSize": {"condition": {"test": "datum.value % 35 === 0", "value": -4}, "value": -2.5}, "domainWidth": 1.3, "tickWidth": 1, "labelFontSize": 12, "labelPadding": 6, "title": "x10", "titleFontSize": 13, "titleX": 510, "titleY": -133, "titleAlign": "center", "titleBaseline": "middle"}},
        "y": {"field": "y", "type": "quantitative", "scale": {"domain": [0, 10], "range": [115, -32], "nice": false, "zero": false},
          "axis": {"orient": "left", "offset": -349, "title": null, "values": [0,1,2,3,4,5,6,7,8,9,10], "labels": false, "tickSize": -3, "domainWidth": 1.3, "tickWidth": 1}},
        "color": {"field": "s", "type": "nominal"}
      }
    }
  ],
  "resolve": {"scale": {"x": "independent", "y": "independent"}}
}
]
}
